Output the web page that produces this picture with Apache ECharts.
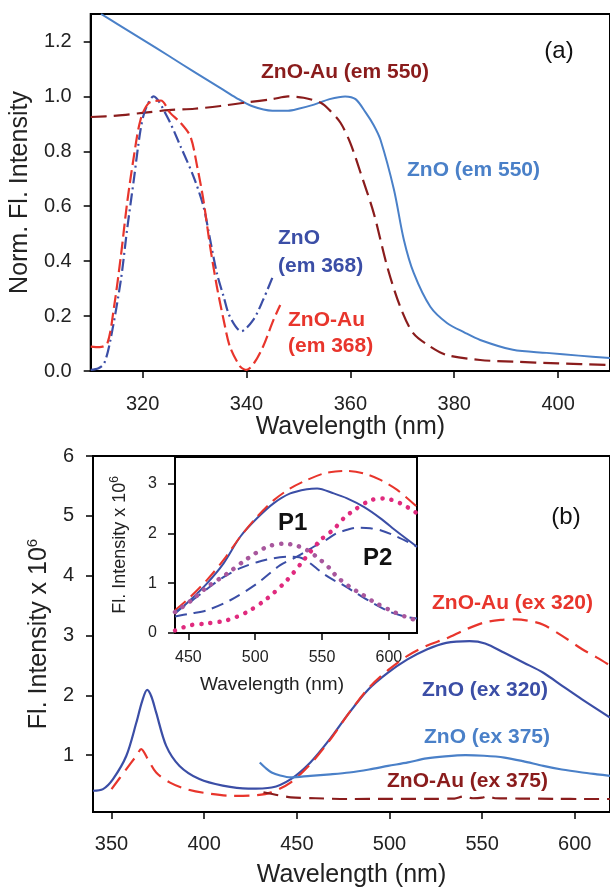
<!DOCTYPE html>
<html>
<head>
<meta charset="utf-8">
<title>ZnO / ZnO-Au fluorescence</title>
<script src="https://cdn.jsdelivr.net/npm/echarts@6/dist/echarts.min.js"></script>
<style>
  html, body { margin: 0; padding: 0; background: #fff; }
  #chart { width: 610px; height: 889px; }
</style>
</head>
<body>
<div id="chart"></div>
<script>
// ---- panel (a): normalised excitation spectra ----
var znoEm550X = [312, 315, 320, 325, 330, 335, 338, 341, 345, 348, 350, 353, 356, 359, 361, 363, 364.5, 365.8, 368.4, 370.3, 372.2, 375.4, 378.6, 382, 385, 391.3, 397.8, 404, 410];
var znoEm550Y = [1.30, 1.265, 1.207, 1.148, 1.088, 1.03, 0.995, 0.965, 0.948, 0.948, 0.955, 0.97, 0.99, 1.0, 0.99, 0.94, 0.895, 0.842, 0.66, 0.478, 0.357, 0.234, 0.175, 0.14, 0.113, 0.077, 0.066, 0.056, 0.047];

var znoAuEm550X = [310, 315, 320, 325, 330, 335, 340, 345, 348, 351, 354.3, 356, 358.1, 360, 362, 364.5, 367.1, 369.6, 372.1, 375.4, 378.6, 385, 391.3, 400, 410];
var znoAuEm550Y = [0.925, 0.93, 0.94, 0.95, 0.955, 0.965, 0.978, 0.99, 1.0, 0.995, 0.977, 0.95, 0.904, 0.83, 0.72, 0.575, 0.38, 0.234, 0.138, 0.089, 0.058, 0.04, 0.034, 0.028, 0.022];

var znoEm368X = [310, 311.5, 312.6, 313.8, 315.8, 317, 318.3, 319.6, 320.5, 322.1, 324.7, 327.3, 329.8, 331.7, 333, 334.3, 335.6, 336.8, 339, 341.3, 343.2, 345.2];
var znoEm368Y = [0.004, 0.01, 0.028, 0.113, 0.33, 0.514, 0.696, 0.879, 0.95, 1.0, 0.927, 0.818, 0.708, 0.6, 0.478, 0.356, 0.271, 0.198, 0.145, 0.186, 0.259, 0.35];

var znoAuEm368X = [310, 311.7, 313.2, 314.5, 315.8, 317, 318.3, 319.6, 321.2, 323.5, 325.3, 327.3, 329.2, 330.5, 331.7, 333, 334.3, 335.6, 336.8, 338.8, 340, 341.5, 343.2, 345.2, 346.5];
var znoAuEm368Y = [0.089, 0.087, 0.1, 0.234, 0.417, 0.61, 0.78, 0.915, 0.976, 0.985, 0.94, 0.904, 0.854, 0.745, 0.623, 0.453, 0.307, 0.186, 0.089, 0.016, 0.004, 0.03, 0.089, 0.186, 0.24];

// ---- panel (b): emission spectra ----
var znoEx320X = [340, 345.4, 350.8, 358, 363.4, 366.5, 369.2, 371.5, 374.1, 379.5, 386.7, 397.4, 410, 423.8, 436.4, 446.8, 457.3, 467.8, 478.3, 488.7, 499.2, 509.7, 520.1, 530.6, 543.2, 551.6, 562, 572.5, 583, 593.4, 603.9, 619];
var znoEx320Y = [0.405, 0.433, 0.6, 0.99, 1.545, 1.9, 2.09, 1.98, 1.71, 1.155, 0.82, 0.6, 0.49, 0.44, 0.46, 0.6, 0.878, 1.267, 1.71, 2.1, 2.378, 2.6, 2.767, 2.878, 2.905, 2.867, 2.71, 2.545, 2.378, 2.155, 1.933, 1.63];

var znoAuEx320X = [350, 358, 363.4, 366, 369.6, 374.1, 381.3, 390.3, 400, 415.5, 428, 436.2, 446.8, 457.3, 467.8, 478.3, 488.7, 499.2, 509.7, 520.1, 530.6, 541.1, 551.5, 560, 568.3, 576, 583, 593.4, 604, 612, 619];
var znoAuEx320Y = [0.433, 0.767, 0.99, 1.1, 0.933, 0.71, 0.545, 0.433, 0.37, 0.32, 0.33, 0.378, 0.545, 0.85, 1.25, 1.71, 2.12, 2.42, 2.66, 2.83, 2.95, 3.1, 3.22, 3.26, 3.27, 3.24, 3.18, 2.99, 2.77, 2.63, 2.5];

var znoEx375X = [430, 433, 436.4, 441, 446.8, 457.3, 468, 478.3, 489, 499.2, 510, 520, 530, 541, 551, 562, 572, 583, 593, 604, 612, 619];
var znoEx375Y = [0.878, 0.79, 0.71, 0.66, 0.628, 0.655, 0.68, 0.71, 0.76, 0.82, 0.88, 0.945, 0.98, 1.0, 0.99, 0.96, 0.9, 0.82, 0.76, 0.71, 0.68, 0.655];

var znoAuEx375X = [432, 440, 446.8, 460, 478, 500, 520, 535, 540, 545, 550, 553, 557, 570, 590, 605, 619];
var znoAuEx375Y = [0.38, 0.33, 0.295, 0.28, 0.267, 0.27, 0.27, 0.275, 0.31, 0.28, 0.29, 0.315, 0.28, 0.275, 0.27, 0.267, 0.267];

// ---- inset: peak deconvolution (P1, P2) ----
var insetAuX = [440, 451.3, 463.8, 476.2, 488.8, 501.3, 513.7, 526.2, 538.8, 551.2, 560, 568.7, 581.2, 593.7, 606.2, 621];
var insetAuY = [0.455, 0.72, 1.06, 1.46, 1.93, 2.33, 2.66, 2.9, 3.07, 3.2, 3.24, 3.25, 3.2, 3.07, 2.87, 2.53];

var insetZnoX = [440, 451.3, 463.8, 476.2, 488.8, 501.3, 513.7, 526.2, 538.8, 546.3, 558.7, 568.7, 581.2, 593.7, 606.2, 621];
var insetZnoY = [0.39, 0.657, 0.99, 1.39, 1.93, 2.3, 2.6, 2.8, 2.885, 2.9, 2.8, 2.7, 2.53, 2.3, 2.03, 1.73];

var p1ZnoX = [440, 451.3, 463.8, 476.2, 488.8, 501.3, 513.7, 526, 533, 540, 546.2, 552, 558.7, 564, 576.2, 588.7, 601.2, 612, 621];
var p1ZnoY = [0.42, 0.62, 0.88, 1.12, 1.3, 1.42, 1.5, 1.53, 1.52, 1.42, 1.29, 1.17, 1.06, 0.99, 0.79, 0.59, 0.42, 0.33, 0.29];

var p2ZnoX = [440, 451.3, 463.8, 481.3, 501.3, 518.7, 531.2, 543.7, 553.7, 561, 568.7, 576.2, 586, 593.7, 606.2, 621];
var p2ZnoY = [0.33, 0.39, 0.455, 0.657, 0.99, 1.36, 1.53, 1.73, 1.88, 2.0, 2.07, 2.11, 2.1, 2.06, 1.93, 1.73];

var p1AuX = [440, 452, 464, 479, 494, 509, 521, 530, 539, 549, 556, 561, 571, 579, 589, 601, 612, 621];
var p1AuY = [0.42, 0.65, 0.92, 1.19, 1.49, 1.73, 1.79, 1.76, 1.66, 1.46, 1.29, 1.13, 0.92, 0.79, 0.62, 0.455, 0.33, 0.25];

var p2AuX = [440, 451.3, 463.8, 478.8, 493.8, 508.8, 523.8, 536.2, 548.7, 558.7, 566.2, 573.7, 586.2, 596.2, 608.7, 621];
var p2AuY = [0.05, 0.155, 0.19, 0.255, 0.42, 0.69, 1.06, 1.46, 1.86, 2.08, 2.3, 2.46, 2.66, 2.7, 2.6, 2.4];

// ---- ticks ----
var ticksAX = [320, 340, 360, 380, 400];
var ticksAY = [0, 0.2, 0.4, 0.6, 0.8, 1.0, 1.2];
var ticksBX = [350, 400, 450, 500, 550, 600];
var ticksBY = [1, 2, 3, 4, 5, 6];
var ticksInsetX = [450, 500, 550, 600];
var ticksInsetY = [0, 1, 2, 3];

var FONT = '"Liberation Sans", Arial, Helvetica, sans-serif';
var LIGHT_BLUE = '#4a80c8';
var DARK_BLUE = '#3b4ea6';
var RED = '#e8352c';
var DARK_RED = '#8a1c1c';
var DOT_P1 = '#a8579d';
var DOT_P2 = '#e02a7e';

function pairs(xs, ys) {
  return xs.map(function (x, i) { return [x, ys[i]]; });
}

function axisBase(fontSize, margin) {
  return {
    axisLine: { show: true, onZero: false, lineStyle: { color: '#000', width: 2 } },
    axisTick: { show: true, length: 7, lineStyle: { color: '#000', width: 1.5 } },
    axisLabel: { color: '#222', fontSize: fontSize, fontFamily: FONT, margin: margin },
    splitLine: { show: false }
  };
}

function xAxis(grid, min, max, ticks, fontSize, margin, name, nameGap, nameSize, extra) {
  var a = axisBase(fontSize, margin);
  a.type = 'value'; a.gridIndex = grid; a.min = min; a.max = max;
  a.axisTick.customValues = ticks;
  a.axisLabel.customValues = ticks;
  a.name = name; a.nameLocation = 'middle'; a.nameGap = nameGap;
  a.nameTextStyle = Object.assign({ color: '#222', fontSize: nameSize, fontFamily: FONT }, extra || {});
  return a;
}

function yAxis(grid, min, max, ticks, fontSize, margin, name, nameGap, nameSize, fmt, extra) {
  var a = axisBase(fontSize, margin);
  a.type = 'value'; a.gridIndex = grid; a.min = min; a.max = max;
  a.axisTick.customValues = ticks;
  a.axisLabel.customValues = ticks;
  if (fmt) a.axisLabel.formatter = fmt;
  a.name = name; a.nameLocation = 'middle'; a.nameGap = nameGap;
  a.nameTextStyle = Object.assign({ color: '#222', fontSize: nameSize, fontFamily: FONT }, extra || {});
  return a;
}

function line(axis, xs, ys, color, width, type, cap) {
  return {
    type: 'line', xAxisIndex: axis, yAxisIndex: axis,
    data: pairs(xs, ys), showSymbol: false, smooth: 0.3,
    lineStyle: { color: color, width: width, type: type || 'solid', cap: cap || 'butt', join: 'round' },
    silent: true, animation: false, z: 3
  };
}

var supRich = function (size, lift) {
  return { sup: { fontSize: size, fontFamily: FONT, color: '#222', padding: [0, 0, lift, 0] } };
};

var annotations = [
  { text: 'ZnO-Au (em 550)', x: 261, y: 72, color: DARK_RED, size: 21 },
  { text: 'ZnO (em 550)', x: 407, y: 170, color: LIGHT_BLUE, size: 21 },
  { text: 'ZnO', x: 278, y: 238, color: DARK_BLUE, size: 21 },
  { text: '(em 368)', x: 278, y: 266, color: DARK_BLUE, size: 21 },
  { text: 'ZnO-Au', x: 288, y: 320, color: RED, size: 21 },
  { text: '(em 368)', x: 288, y: 346, color: RED, size: 21 },
  { text: 'ZnO-Au (ex 320)', x: 432, y: 603, color: RED, size: 21 },
  { text: 'ZnO (ex 320)', x: 422, y: 690, color: DARK_BLUE, size: 21 },
  { text: 'ZnO (ex 375)', x: 424, y: 737, color: LIGHT_BLUE, size: 21 },
  { text: 'ZnO-Au (ex 375)', x: 387, y: 781, color: DARK_RED, size: 21 },
  { text: 'P1', x: 278, y: 523, color: '#111', size: 24 },
  { text: 'P2', x: 363, y: 558, color: '#111', size: 24 }
];

var graphics = annotations.map(function (a) {
  return {
    type: 'text', z: 10,
    style: {
      text: a.text, x: a.x, y: a.y, fill: a.color,
      font: 'bold ' + a.size + 'px ' + FONT,
      textAlign: 'left', textVerticalAlign: 'middle', align: 'left', verticalAlign: 'middle'
    }
  };
});
graphics.push({ type: 'text', z: 10, style: { text: '(a)', x: 559, y: 51, fill: '#111', font: '24px ' + FONT, textAlign: 'center', textVerticalAlign: 'middle', align: 'center', verticalAlign: 'middle' } });
graphics.push({ type: 'text', z: 10, style: { text: '(b)', x: 566, y: 517, fill: '#111', font: '24px ' + FONT, textAlign: 'center', textVerticalAlign: 'middle', align: 'center', verticalAlign: 'middle' } });

var option = {
  backgroundColor: '#fff',
  animation: false,
  grid: [
    { left: 89, top: 14, width: 522, height: 357, show: true, borderColor: '#000', borderWidth: 2, backgroundColor: 'transparent' },
    { left: 93, top: 456, width: 518, height: 357, show: true, borderColor: '#000', borderWidth: 2, backgroundColor: 'transparent' },
    { left: 175, top: 457, width: 242, height: 176, show: true, borderColor: '#000', borderWidth: 2, backgroundColor: '#fff' }
  ],
  xAxis: [
    xAxis(0, 310, 410, ticksAX, 20, 23, 'Wavelength (nm)', 44, 25),
    xAxis(1, 340, 619, ticksBX, 20, 22, 'Wavelength (nm)', 51, 25),
    xAxis(2, 440, 621, ticksInsetX, 16, 17, 'Wavelength (nm)', 42, 19, { padding: [0, 48, 0, 0] })
  ],
  yAxis: [
    yAxis(0, 0, 1.3, ticksAY, 20, 19, 'Norm. Fl. Intensity', 55, 25, function (v) { return v.toFixed(1); }),
    yAxis(1, 0.05, 6, ticksBY, 20, 19, 'Fl. Intensity x 10{sup|6}', 37, 25, null, { rich: supRich(15, 14) }),
    yAxis(2, 0, 3.53, ticksInsetY, 16, 18, 'Fl. Intensity x 10{sup|6}', 44, 18, null, { rich: supRich(12, 10) })
  ],
  graphic: graphics,
  series: [
    line(0, znoEm550X, znoEm550Y, LIGHT_BLUE, 2),
    line(0, znoAuEm550X, znoAuEm550Y, DARK_RED, 2.2, [16, 7]),
    line(0, znoEm368X, znoEm368Y, DARK_BLUE, 2.2, [12, 4, 2, 4]),
    line(0, znoAuEm368X, znoAuEm368Y, RED, 2.2, [13, 5]),

    line(1, znoEx320X, znoEx320Y, DARK_BLUE, 2.2),
    line(1, znoAuEx320X, znoAuEx320Y, RED, 2.2, [15, 8]),
    line(1, znoEx375X, znoEx375Y, LIGHT_BLUE, 2.2),
    line(1, znoAuEx375X, znoAuEx375Y, DARK_RED, 2.2, [15, 8]),

    line(2, insetZnoX, insetZnoY, DARK_BLUE, 2),
    line(2, insetAuX, insetAuY, RED, 2, [14, 7]),
    line(2, p1ZnoX, p1ZnoY, DARK_BLUE, 2, [12, 7]),
    line(2, p2ZnoX, p2ZnoY, DARK_BLUE, 2, [12, 7]),
    line(2, p1AuX, p1AuY, DOT_P1, 4.5, [0.1, 9], 'round'),
    line(2, p2AuX, p2AuY, DOT_P2, 4.5, [0.1, 9], 'round')
  ]
};

var myChart = echarts.init(document.getElementById('chart'), null, { renderer: 'canvas' });
myChart.setOption(option);
</script>
</body>
</html>
